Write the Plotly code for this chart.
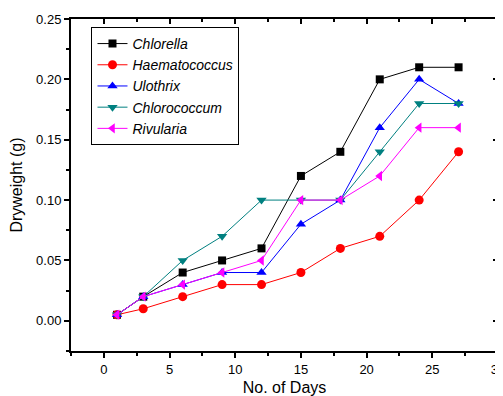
import plotly.graph_objects as go

days = [1, 3, 6, 9, 12, 15, 18, 21, 24, 27]
chlorella = [0.005, 0.02, 0.04, 0.05, 0.06, 0.12, 0.14, 0.20, 0.21, 0.21]
haematococcus = [0.005, 0.01, 0.02, 0.03, 0.03, 0.04, 0.06, 0.07, 0.10, 0.14]
ulothrix = [0.005, 0.02, 0.03, 0.04, 0.04, 0.08, 0.10, 0.16, 0.20, 0.18]
chlorococcum = [0.005, 0.02, 0.05, 0.07, 0.10, 0.10, 0.10, 0.14, 0.18, 0.18]
rivularia = [0.005, 0.02, 0.03, 0.04, 0.05, 0.10, 0.10, 0.12, 0.16, 0.16]

series = [
    ("Chlorella", chlorella, "#000000", "square", 8),
    ("Haematococcus", haematococcus, "#ff0000", "circle", 9),
    ("Ulothrix", ulothrix, "#0000ff", "triangle-up", 9),
    ("Chlorococcum", chlorococcum, "#008080", "triangle-down", 9),
    ("Rivularia", rivularia, "#ff00ff", "triangle-left", 9),
]

fig = go.Figure()
for name, vals, col, sym, sz in series:
    fig.add_trace(go.Scatter(
        x=days, y=vals, mode="lines+markers", name=name,
        line=dict(color=col, width=1),
        marker=dict(color=col, symbol=sym, size=sz, line=dict(width=0)),
    ))

font = dict(family="Arial, Liberation Sans, sans-serif", size=13, color="black")
xr = [-2.5, 30]
yr = [-0.025, 0.25]

# page body has an 8px margin, so the figure is sized to fit inside the window
fig.update_layout(
    width=495, height=388,
    margin=dict(l=63, r=5, t=11, b=45, autoexpand=False),
    paper_bgcolor="white", plot_bgcolor="white",
    font=font,
    showlegend=True,
    legend=dict(
        x=0.048, y=0.976, xanchor="left", yanchor="top",
        bordercolor="black", borderwidth=1, bgcolor="white",
        font=dict(family="Arial, Liberation Sans, sans-serif", size=14, style="italic"),
        tracegroupgap=0, itemwidth=30,
    ),
    xaxis=dict(
        range=xr, showgrid=False, zeroline=False, automargin=False,
        showline=True, linecolor="black", linewidth=2,
        ticks="outside", tickwidth=1.5, ticklen=5, tickcolor="black",
        tickmode="linear", tick0=0, dtick=5, ticklabeloverflow="allow",
        minor=dict(ticks="outside", tick0=0, dtick=2.5, ticklen=3, tickcolor="black", tickwidth=1.5),
        title=dict(text="No. of Days", font=dict(size=16), standoff=12),
    ),
    yaxis=dict(
        range=yr, showgrid=False, zeroline=False, automargin=False,
        showline=True, linecolor="black", linewidth=2,
        ticks="outside", tickwidth=1.5, ticklen=5, tickcolor="black",
        tickmode="linear", tick0=0, dtick=0.05, tickformat=".2f",
        minor=dict(ticks="outside", tick0=0, dtick=0.025, ticklen=3, tickcolor="black", tickwidth=1.5),
        title=dict(text="Dryweight (g)", font=dict(size=16), standoff=11),
    ),
    xaxis2=dict(
        range=xr, overlaying="x", side="top", showgrid=False, zeroline=False, automargin=False,
        showline=True, linecolor="black", linewidth=2, showticklabels=False,
        ticks="inside", tickwidth=1.5, ticklen=5, tickcolor="black",
        tickmode="linear", tick0=0, dtick=5,
        minor=dict(ticks="inside", tick0=0, dtick=2.5, ticklen=3, tickcolor="black", tickwidth=1.5),
    ),
    yaxis2=dict(
        range=yr, overlaying="y", side="right", showgrid=False, zeroline=False, automargin=False,
        showline=True, linecolor="black", linewidth=2, showticklabels=False,
        ticks="inside", tickwidth=1.5, ticklen=5, tickcolor="black",
        tickmode="linear", tick0=0, dtick=0.05,
        minor=dict(ticks="inside", tick0=0, dtick=0.025, ticklen=3, tickcolor="black", tickwidth=1.5),
    ),
)
fig.add_trace(go.Scatter(x=[None], y=[None], xaxis="x2", yaxis="y2", showlegend=False, hoverinfo="skip"))

fig.write_html("out.html")
